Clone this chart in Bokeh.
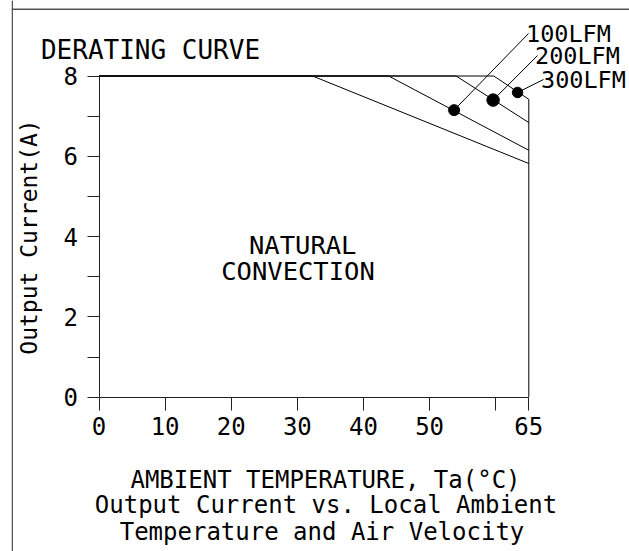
from bokeh.plotting import figure
from bokeh.models import Range1d, FixedTicker, Span
from bokeh.core.properties import value
from bokeh.embed import file_html
from bokeh.resources import INLINE

# ---------------- data ----------------
T_NATURAL = [0, 32.3, 65]
I_NATURAL = [8, 8, 5.82]
T_100LFM = [0, 43.8, 65]
I_100LFM = [8, 8, 6.15]
T_200LFM = [0, 54.0, 65]
I_200LFM = [8, 8, 6.84]
T_300LFM = [0, 59.7, 65, 65]
I_300LFM = [8, 8, 7.42, 0]

MARK_T = [53.7, 59.6, 63.3]
MARK_I = [7.15, 7.40, 7.59]
MARK_LABELS = ["100LFM", "200LFM", "300LFM"]

X_TICKS = [0, 10, 20, 30, 40, 50, 65]
X_MINOR_TICKS = [60]
Y_TICKS = [0, 2, 4, 6, 8]
Y_MINOR_TICKS = [1, 3, 5, 7]

TITLE = "DERATING CURVE"
REGION_TEXT = ["NATURAL", "CONVECTION"]
X_TITLE = "AMBIENT TEMPERATURE, Ta(°C)"
Y_TITLE = "Output Current(A)"
CAPTION = ["Output Current vs. Local Ambient", "Temperature and Air Velocity"]

# ---------------- layout (page pixels) ----------------
W, H = 629, 551
PAGE = 0
X0_PX, X65_PX = 98.5, 528.3       # page x of T=0 and T=65
Y0_PX, Y8_PX = 396.7, 75.5        # page y of I=0 and I=8
SX = (X65_PX - X0_PX) / 65.0
SY = (Y0_PX - Y8_PX) / 8.0
LEFT_BORDER = 11


def dx(px):
    return (px - X0_PX) / SX


def dy(py):
    return (Y0_PX - py) / SY


FONT = "DejaVu Sans Mono"

p = figure(width=W, height=H,
           x_range=Range1d(dx(PAGE + LEFT_BORDER), dx(PAGE + W)),
           y_range=Range1d(dy(PAGE + H), dy(PAGE)),
           output_backend="svg", toolbar_location=None,
           min_border_left=LEFT_BORDER, min_border_right=0,
           min_border_top=0, min_border_bottom=0,
           outline_line_color=None, background_fill_color="white",
           border_fill_color="white")
p.grid.visible = False

# outer drawing frame
p.add_layout(Span(location=dx(11.75), dimension="height", line_color="#555", line_width=1.5))
p.add_layout(Span(location=dy(8.75), dimension="width", line_color="#555", line_width=1.5))

# axes
xa = p.xaxis[0]
ya = p.yaxis[0]
xa.fixed_location = 0
ya.fixed_location = 0
xa.ticker = FixedTicker(ticks=X_TICKS, minor_ticks=X_MINOR_TICKS)
ya.ticker = FixedTicker(ticks=Y_TICKS, minor_ticks=Y_MINOR_TICKS)
xa.bounds = (0, 65)
ya.bounds = (0, 8)
for ax, tick_len, standoff in ((xa, 13, 7), (ya, 12, 9)):
    ax.major_tick_in = 0
    ax.minor_tick_in = 0
    ax.major_tick_out = tick_len
    ax.minor_tick_out = tick_len
    ax.axis_line_color = "#222"
    ax.major_tick_line_color = "#222"
    ax.minor_tick_line_color = "#222"
    ax.major_label_text_font = FONT
    ax.major_label_text_font_size = "24px"
    ax.major_label_text_color = "black"
    ax.major_label_standoff = standoff

ya.axis_label = Y_TITLE
ya.axis_label_text_font = FONT
ya.axis_label_text_font_size = "23px"
ya.axis_label_text_font_style = "normal"
ya.axis_label_text_color = "black"
ya.axis_label_standoff = 19

# curves
for t, i in ((T_NATURAL, I_NATURAL), (T_100LFM, I_100LFM),
             (T_200LFM, I_200LFM), (T_300LFM, I_300LFM)):
    p.line(t, i, line_color="black", line_width=1)

# markers + leaders
LEADER_END_PX = [(528, 33), (537, 55), (543, 79)]
leader_t = [dx(a) for a, b in LEADER_END_PX]
leader_i = [dy(b) for a, b in LEADER_END_PX]
p.segment(x0=MARK_T, y0=MARK_I, x1=leader_t, y1=leader_i,
          line_color="black", line_width=1)
p.scatter(MARK_T, MARK_I, size=[11, 12.5, 10.5], color="black")
p.text(x=[t - 2.5 / SX for t in leader_t], y=leader_i, text=MARK_LABELS,
       text_font=value(FONT), text_font_size="23.5px", text_color="black",
       text_align="left", text_baseline="alphabetic")

# texts
p.text(x=[dx(150)], y=[dy(49.3)], text=[TITLE], text_font=value(FONT),
       text_font_size="26px", text_color="black", text_align="center",
       text_baseline="alphabetic")
p.text(x=[dx(302.2), dx(297.5)], y=[dy(244), dy(270)], text=REGION_TEXT,
       text_font=value(FONT), text_font_size="25.5px", text_color="black",
       text_align="center", text_baseline="alphabetic")
p.text(x=[dx(325), dx(325.5), dx(321.5)], y=[dy(479.3), dy(504), dy(531)],
       text=[X_TITLE] + CAPTION, text_font=value(FONT), text_font_size="24px",
       text_color="black", text_align="center", text_baseline="alphabetic")

open("out.html", "w").write(file_html(p, INLINE))
